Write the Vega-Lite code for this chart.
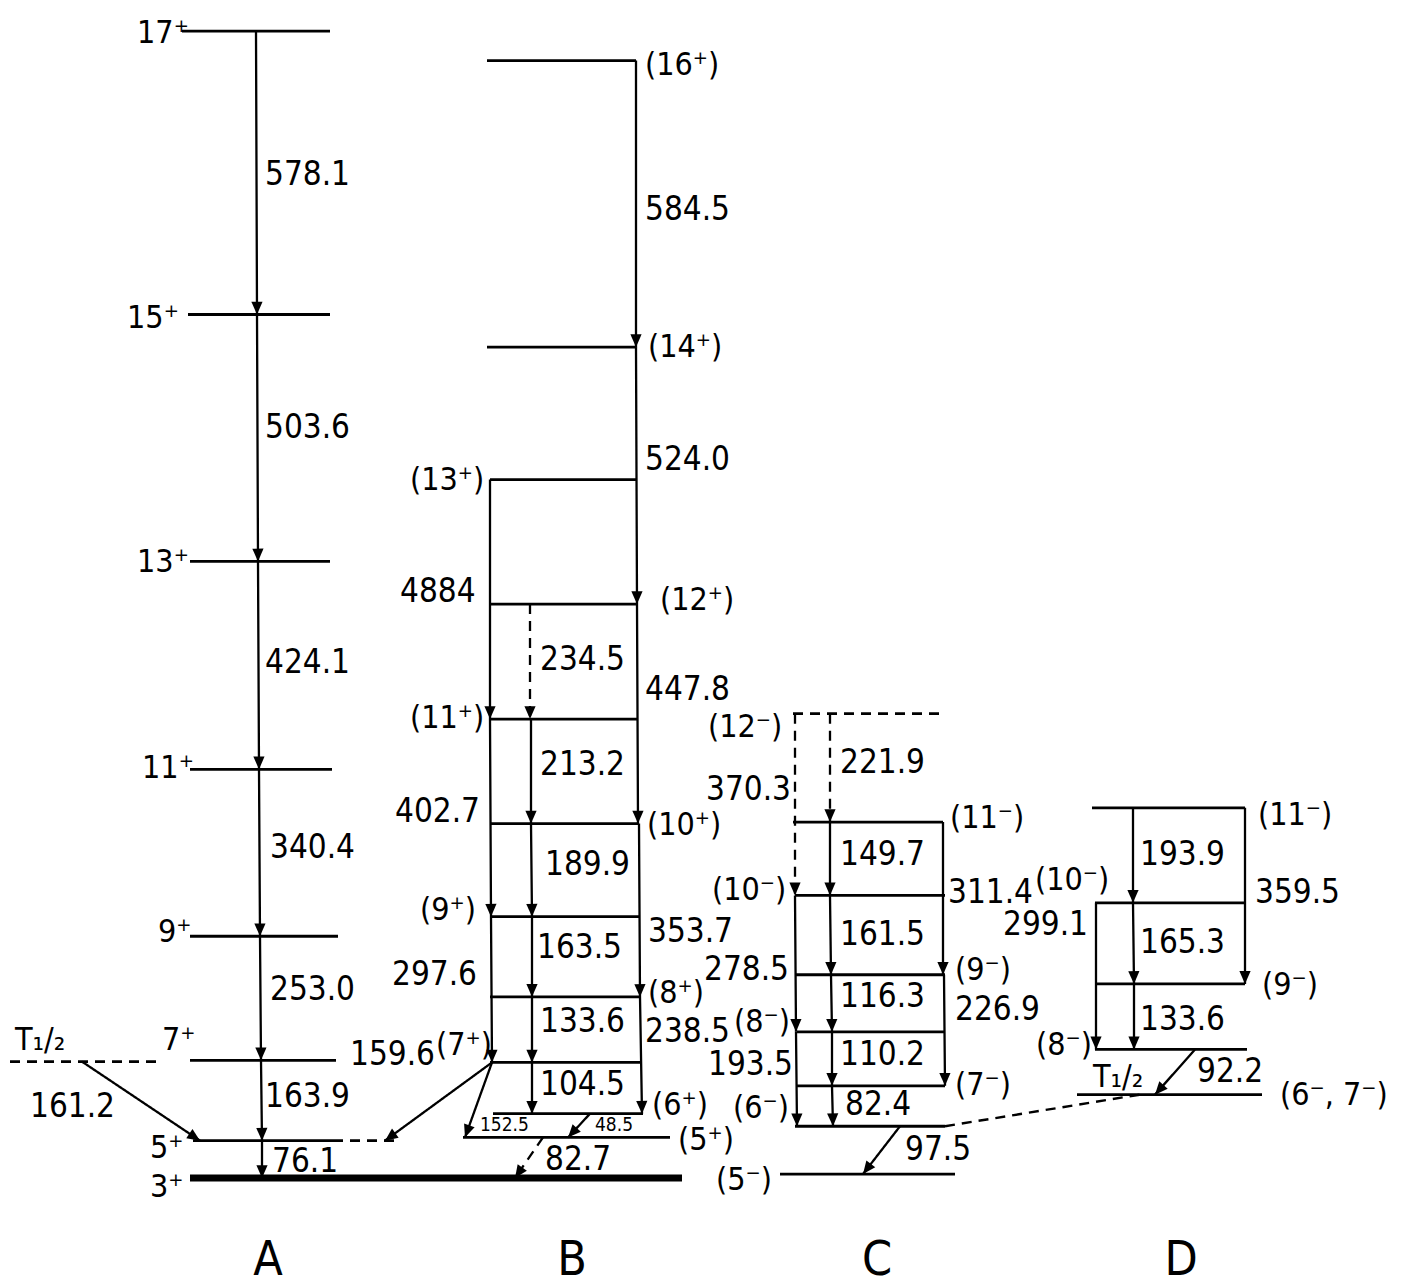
{
  "$schema": "https://vega.github.io/schema/vega-lite/v6.json",
  "width": 1414,
  "height": 1288,
  "autosize": {"type": "fit", "contains": "padding"},
  "padding": 0,
  "background": "white",
  "config": {
    "view": {"stroke": null},
    "text": {"font": "DejaVu Sans Condensed, DejaVu Sans", "color": "black"}
  },
  "datasets": {
    "ground": [
      {"band": "A", "jp": "3+", "x1": 190, "x2": 682, "e": 0}
    ],
    "levels": [
      {"band": "A", "jp": "17+", "x1": 182, "x2": 330, "e": 2339.2, "status": "firm"},
      {"band": "A", "jp": "15+", "x1": 188, "x2": 330, "e": 1761.1, "status": "firm"},
      {"band": "A", "jp": "13+", "x1": 190, "x2": 330, "e": 1257.5, "status": "firm"},
      {"band": "A", "jp": "11+", "x1": 190, "x2": 332, "e": 833.4, "status": "firm"},
      {"band": "A", "jp": "9+", "x1": 190, "x2": 338, "e": 493.0, "status": "firm"},
      {"band": "A", "jp": "7+", "x1": 190, "x2": 336, "e": 240.0, "status": "firm"},
      {"band": "A", "jp": "isomer", "x1": 10, "x2": 163, "e": 237.3, "status": "tentative"},
      {"band": "A", "jp": "5+", "x1": 193, "x2": 333, "e": 76.1, "status": "firm"},
      {"band": "A", "jp": "5+", "x1": 333, "x2": 397, "e": 76.1, "status": "tentative"},
      {"band": "B", "jp": "16+", "x1": 487, "x2": 636, "e": 2279.1, "status": "firm"},
      {"band": "B", "jp": "14+", "x1": 487, "x2": 636, "e": 1694.6, "status": "firm"},
      {"band": "B", "jp": "13+", "x1": 490, "x2": 637, "e": 1424.4, "status": "firm"},
      {"band": "B", "jp": "12+", "x1": 490, "x2": 637, "e": 1170.6, "status": "firm"},
      {"band": "B", "jp": "11+", "x1": 490, "x2": 638, "e": 936.0, "status": "firm"},
      {"band": "B", "jp": "10+", "x1": 490, "x2": 639, "e": 722.9, "status": "firm"},
      {"band": "B", "jp": "9+", "x1": 490, "x2": 639, "e": 532.9, "status": "firm"},
      {"band": "B", "jp": "8+", "x1": 490, "x2": 641, "e": 369.3, "status": "firm"},
      {"band": "B", "jp": "7+", "x1": 490, "x2": 641, "e": 235.6, "status": "firm"},
      {"band": "B", "jp": "6+", "x1": 493, "x2": 643, "e": 131.1, "status": "firm"},
      {"band": "B", "jp": "5+", "x1": 463, "x2": 670, "e": 82.7, "status": "firm"},
      {"band": "C", "jp": "12-", "x1": 793, "x2": 943, "e": 947.0, "status": "tentative"},
      {"band": "C", "jp": "11-", "x1": 793, "x2": 943, "e": 725.9, "status": "firm"},
      {"band": "C", "jp": "10-", "x1": 795, "x2": 945, "e": 576.3, "status": "firm"},
      {"band": "C", "jp": "9-", "x1": 795, "x2": 945, "e": 414.5, "status": "firm"},
      {"band": "C", "jp": "8-", "x1": 797, "x2": 945, "e": 298.1, "status": "firm"},
      {"band": "C", "jp": "7-", "x1": 797, "x2": 945, "e": 187.9, "status": "firm"},
      {"band": "C", "jp": "6-", "x1": 795, "x2": 945, "e": 105.5, "status": "firm"},
      {"band": "C", "jp": "5-", "x1": 780, "x2": 955, "e": 8.0, "status": "firm"},
      {"band": "D", "jp": "11-", "x1": 1092, "x2": 1245, "e": 755.0, "status": "firm"},
      {"band": "D", "jp": "10-", "x1": 1095, "x2": 1245, "e": 561.1, "status": "firm"},
      {"band": "D", "jp": "9-", "x1": 1095, "x2": 1245, "e": 395.8, "status": "firm"},
      {"band": "D", "jp": "8-", "x1": 1095, "x2": 1247, "e": 262.2, "status": "firm"},
      {"band": "D", "jp": "6-,7-", "x1": 1077, "x2": 1262, "e": 170.0, "status": "firm"}
    ],
    "links": [
      {"from": "C 6-", "to": "D 6-,7-", "x1": 945, "e1": 105.5, "x2": 1140, "e2": 170.0, "status": "tentative"}
    ],
    "transitions": [
      {"g": "578.1", "x1": 256, "e1": 2339.2, "x2": 257, "e2": 1761.1, "status": "firm"},
      {"g": "503.6", "x1": 257, "e1": 1761.1, "x2": 258, "e2": 1257.5, "status": "firm"},
      {"g": "424.1", "x1": 258, "e1": 1257.5, "x2": 259, "e2": 833.4, "status": "firm"},
      {"g": "340.4", "x1": 259, "e1": 833.4, "x2": 260, "e2": 493.0, "status": "firm"},
      {"g": "253.0", "x1": 260, "e1": 493.0, "x2": 261, "e2": 240.0, "status": "firm"},
      {"g": "163.9", "x1": 261, "e1": 240.0, "x2": 262, "e2": 76.1, "status": "firm"},
      {"g": "76.1", "x1": 262, "e1": 76.1, "x2": 262, "e2": 0, "status": "firm"},
      {"g": "161.2", "x1": 82, "e1": 237.3, "x2": 200, "e2": 76.1, "status": "firm"},
      {"g": "584.5", "x1": 636, "e1": 2279.1, "x2": 636, "e2": 1694.6, "status": "firm"},
      {"g": "524.0", "x1": 636, "e1": 1694.6, "x2": 637, "e2": 1170.6, "status": "firm"},
      {"g": "447.8", "x1": 637, "e1": 1170.6, "x2": 638, "e2": 722.9, "status": "firm"},
      {"g": "353.7", "x1": 639, "e1": 722.9, "x2": 640, "e2": 369.3, "status": "firm"},
      {"g": "238.5", "x1": 640, "e1": 369.3, "x2": 642, "e2": 131.1, "status": "firm"},
      {"g": "488.4", "x1": 490, "e1": 1424.4, "x2": 490, "e2": 936.0, "status": "firm"},
      {"g": "402.7", "x1": 490, "e1": 936.0, "x2": 491, "e2": 532.9, "status": "firm"},
      {"g": "297.6", "x1": 491, "e1": 532.9, "x2": 492, "e2": 235.6, "status": "firm"},
      {"g": "234.5", "x1": 530, "e1": 1170.6, "x2": 530, "e2": 936.0, "status": "tentative"},
      {"g": "213.2", "x1": 531, "e1": 936.0, "x2": 531, "e2": 722.9, "status": "firm"},
      {"g": "189.9", "x1": 531, "e1": 722.9, "x2": 532, "e2": 532.9, "status": "firm"},
      {"g": "163.5", "x1": 532, "e1": 532.9, "x2": 532, "e2": 369.3, "status": "firm"},
      {"g": "133.6", "x1": 532, "e1": 369.3, "x2": 532, "e2": 235.6, "status": "firm"},
      {"g": "104.5", "x1": 532, "e1": 235.6, "x2": 532, "e2": 131.1, "status": "firm"},
      {"g": "152.5", "x1": 492, "e1": 235.6, "x2": 465, "e2": 82.7, "status": "firm"},
      {"g": "159.6", "x1": 492, "e1": 235.6, "x2": 385, "e2": 76.1, "status": "firm"},
      {"g": "48.5", "x1": 590, "e1": 131.1, "x2": 568, "e2": 82.7, "status": "firm"},
      {"g": "82.7", "x1": 543, "e1": 82.7, "x2": 515, "e2": 0, "status": "tentative"},
      {"g": "370.3", "x1": 795, "e1": 947.0, "x2": 795, "e2": 576.3, "status": "tentative"},
      {"g": "221.9", "x1": 830, "e1": 947.0, "x2": 830, "e2": 725.9, "status": "tentative"},
      {"g": "278.5", "x1": 795, "e1": 576.3, "x2": 796, "e2": 298.1, "status": "firm"},
      {"g": "193.5", "x1": 796, "e1": 298.1, "x2": 797, "e2": 105.5, "status": "firm"},
      {"g": "149.7", "x1": 830, "e1": 725.9, "x2": 830, "e2": 576.3, "status": "firm"},
      {"g": "161.5", "x1": 830, "e1": 576.3, "x2": 831, "e2": 414.5, "status": "firm"},
      {"g": "116.3", "x1": 831, "e1": 414.5, "x2": 832, "e2": 298.1, "status": "firm"},
      {"g": "110.2", "x1": 832, "e1": 298.1, "x2": 832, "e2": 187.9, "status": "firm"},
      {"g": "82.4", "x1": 832, "e1": 187.9, "x2": 833, "e2": 105.5, "status": "firm"},
      {"g": "311.4", "x1": 943, "e1": 725.9, "x2": 943, "e2": 414.5, "status": "firm"},
      {"g": "226.9", "x1": 944, "e1": 414.5, "x2": 945, "e2": 187.9, "status": "firm"},
      {"g": "97.5", "x1": 900, "e1": 105.5, "x2": 863, "e2": 8.0, "status": "firm"},
      {"g": "299.1", "x1": 1096, "e1": 561.1, "x2": 1096, "e2": 262.2, "status": "firm"},
      {"g": "193.9", "x1": 1133, "e1": 755.0, "x2": 1133, "e2": 561.1, "status": "firm"},
      {"g": "165.3", "x1": 1133, "e1": 561.1, "x2": 1134, "e2": 395.8, "status": "firm"},
      {"g": "133.6", "x1": 1134, "e1": 395.8, "x2": 1134, "e2": 262.2, "status": "firm"},
      {"g": "359.5", "x1": 1245, "e1": 755.0, "x2": 1245, "e2": 395.8, "status": "firm"},
      {"g": "92.2", "x1": 1195, "e1": 262.2, "x2": 1155, "e2": 170.0, "status": "firm"}
    ],
    "gammaLabels": [
      {"t": "578.1", "x": 265, "e": 2045.7},
      {"t": "503.6", "x": 265, "e": 1529.7},
      {"t": "424.1", "x": 265, "e": 1050.4},
      {"t": "340.4", "x": 270, "e": 673.1},
      {"t": "253.0", "x": 270, "e": 383.4},
      {"t": "163.9", "x": 265, "e": 165.2},
      {"t": "76.1", "x": 272, "e": 32.6},
      {"t": "161.2", "x": 30, "e": 144.8},
      {"t": "584.5", "x": 645, "e": 1974.3},
      {"t": "524.0", "x": 645, "e": 1464.4},
      {"t": "4884", "x": 400, "e": 1195.2},
      {"t": "234.5", "x": 540, "e": 1056.5},
      {"t": "447.8", "x": 645, "e": 995.3},
      {"t": "213.2", "x": 540, "e": 842.4},
      {"t": "402.7", "x": 395, "e": 746.5},
      {"t": "189.9", "x": 545, "e": 638.4},
      {"t": "163.5", "x": 537, "e": 469.1},
      {"t": "353.7", "x": 648, "e": 501.7},
      {"t": "297.6", "x": 392, "e": 414.0},
      {"t": "133.6", "x": 540, "e": 318.2},
      {"t": "238.5", "x": 645, "e": 297.8},
      {"t": "104.5", "x": 540, "e": 189.7},
      {"t": "159.6", "x": 350, "e": 250.9},
      {"t": "82.7", "x": 545, "e": 36.7},
      {"t": "221.9", "x": 840, "e": 846.4},
      {"t": "370.3", "x": 706, "e": 791.4},
      {"t": "149.7", "x": 840, "e": 658.8},
      {"t": "311.4", "x": 948, "e": 581.3},
      {"t": "161.5", "x": 840, "e": 495.6},
      {"t": "278.5", "x": 704, "e": 424.2},
      {"t": "116.3", "x": 840, "e": 369.2},
      {"t": "226.9", "x": 955, "e": 342.7},
      {"t": "110.2", "x": 840, "e": 250.9},
      {"t": "193.5", "x": 708, "e": 230.5},
      {"t": "82.4", "x": 845, "e": 148.9},
      {"t": "97.5", "x": 905, "e": 57.1},
      {"t": "193.9", "x": 1140, "e": 658.8},
      {"t": "359.5", "x": 1255, "e": 581.3},
      {"t": "299.1", "x": 1003, "e": 516.0},
      {"t": "165.3", "x": 1140, "e": 479.3},
      {"t": "133.6", "x": 1140, "e": 322.3},
      {"t": "92.2", "x": 1197, "e": 216.2}
    ],
    "smallLabels": [
      {"t": "152.5", "x": 480, "e": 108.1},
      {"t": "48.5", "x": 595, "e": 108.1}
    ],
    "spinLabels": [
      {"t": "17⁺", "x": 137, "e": 2335.3},
      {"t": "15⁺", "x": 127, "e": 1754.1},
      {"t": "13⁺", "x": 137, "e": 1256.4},
      {"t": "11⁺", "x": 142, "e": 836.2},
      {"t": "9⁺", "x": 158, "e": 501.7},
      {"t": "7⁺", "x": 162, "e": 281.5},
      {"t": "5⁺", "x": 150, "e": 61.2},
      {"t": "3⁺", "x": 150, "e": -18.4},
      {"t": "(16⁺)", "x": 645, "e": 2270.1},
      {"t": "(14⁺)", "x": 648, "e": 1694.9},
      {"t": "(13⁺)", "x": 410, "e": 1423.6},
      {"t": "(12⁺)", "x": 660, "e": 1178.9},
      {"t": "(11⁺)", "x": 410, "e": 938.2},
      {"t": "(10⁺)", "x": 647, "e": 720.0},
      {"t": "(9⁺)", "x": 420, "e": 546.6},
      {"t": "(8⁺)", "x": 648, "e": 377.3},
      {"t": "(7⁺)", "x": 436, "e": 271.3},
      {"t": "(6⁺)", "x": 652, "e": 148.9},
      {"t": "(5⁺)", "x": 678, "e": 77.5},
      {"t": "(12⁻)", "x": 708, "e": 919.9},
      {"t": "(11⁻)", "x": 950, "e": 734.3},
      {"t": "(10⁻)", "x": 712, "e": 587.4},
      {"t": "(9⁻)", "x": 955, "e": 424.2},
      {"t": "(8⁻)", "x": 734, "e": 318.2},
      {"t": "(7⁻)", "x": 955, "e": 189.7},
      {"t": "(6⁻)", "x": 733, "e": 142.8},
      {"t": "(5⁻)", "x": 716, "e": -4.1},
      {"t": "(11⁻)", "x": 1258, "e": 740.4},
      {"t": "(10⁻)", "x": 1035, "e": 607.8},
      {"t": "(9⁻)", "x": 1262, "e": 393.6},
      {"t": "(8⁻)", "x": 1036, "e": 271.3},
      {"t": "(6⁻, 7⁻)", "x": 1280, "e": 169.3}
    ],
    "halfLife": [
      {"t": "T₁/₂", "x": 15, "e": 281.5},
      {"t": "T₁/₂", "x": 1093, "e": 206.0}
    ],
    "bands": [
      {"t": "A", "x": 268, "e": -169.3},
      {"t": "B", "x": 572, "e": -169.3},
      {"t": "C", "x": 877, "e": -169.3},
      {"t": "D", "x": 1181, "e": -169.3}
    ]
  },
  "layer": [
    {
      "data": {"name": "ground"},
      "mark": {"type": "rule", "strokeWidth": 7, "color": "black", "strokeCap": "butt"},
      "encoding": {
        "x": {"field": "x1", "type": "quantitative", "scale": {"domain": [0, 1414], "nice": false, "zero": false}, "axis": null},
        "x2": {"field": "x2"},
        "y": {"field": "e", "type": "quantitative", "scale": {"domain": [-224.4, 2402.6], "nice": false, "zero": false}, "axis": null}
      }
    },
    {
      "data": {"name": "levels"},
      "mark": {"type": "rule", "strokeWidth": 2.8, "color": "black", "strokeCap": "butt"},
      "encoding": {
        "x": {"field": "x1", "type": "quantitative", "scale": {"domain": [0, 1414], "nice": false, "zero": false}, "axis": null},
        "x2": {"field": "x2"},
        "y": {"field": "e", "type": "quantitative", "scale": {"domain": [-224.4, 2402.6], "nice": false, "zero": false}, "axis": null},
        "strokeDash": {"field": "status", "type": "nominal", "scale": {"domain": ["firm", "tentative"], "range": [[1, 0], [10, 7]]}, "legend": null}
      }
    },
    {
      "data": {"name": "links"},
      "mark": {"type": "rule", "strokeWidth": 2.4, "color": "black", "strokeCap": "butt"},
      "encoding": {
        "x": {"field": "x1", "type": "quantitative", "scale": {"domain": [0, 1414], "nice": false, "zero": false}, "axis": null},
        "x2": {"field": "x2"},
        "y": {"field": "e1", "type": "quantitative", "scale": {"domain": [-224.4, 2402.6], "nice": false, "zero": false}, "axis": null},
        "y2": {"field": "e2"},
        "strokeDash": {"field": "status", "type": "nominal", "scale": {"domain": ["firm", "tentative"], "range": [[1, 0], [10, 7]]}, "legend": null}
      }
    },
    {
      "data": {"name": "transitions"},
      "mark": {"type": "rule", "strokeWidth": 2.3, "color": "black", "strokeCap": "butt"},
      "encoding": {
        "x": {"field": "x1", "type": "quantitative", "scale": {"domain": [0, 1414], "nice": false, "zero": false}, "axis": null},
        "x2": {"field": "x2"},
        "y": {"field": "e1", "type": "quantitative", "scale": {"domain": [-224.4, 2402.6], "nice": false, "zero": false}, "axis": null},
        "y2": {"field": "e2"},
        "strokeDash": {"field": "status", "type": "nominal", "scale": {"domain": ["firm", "tentative"], "range": [[1, 0], [10, 7]]}, "legend": null}
      }
    },
    {
      "data": {"name": "transitions"},
      "transform": [
        {"calculate": "atan2(-(datum.x2 - datum.x1), 0.4903 * (datum.e1 - datum.e2)) * 180 / PI", "as": "heading"}
      ],
      "mark": {"type": "point", "filled": true, "color": "black", "opacity": 1, "size": 256, "shape": "M0,0L-0.7,-1.6L0.7,-1.6Z"},
      "encoding": {
        "x": {"field": "x2", "type": "quantitative", "scale": {"domain": [0, 1414], "nice": false, "zero": false}, "axis": null},
        "y": {"field": "e2", "type": "quantitative", "scale": {"domain": [-224.4, 2402.6], "nice": false, "zero": false}, "axis": null},
        "angle": {"field": "heading", "type": "quantitative", "scale": null}
      }
    },
    {
      "data": {"name": "gammaLabels"},
      "mark": {"type": "text", "align": "left", "baseline": "middle", "fontSize": 33},
      "encoding": {
        "x": {"field": "x", "type": "quantitative", "scale": {"domain": [0, 1414], "nice": false, "zero": false}, "axis": null},
        "y": {"field": "e", "type": "quantitative", "scale": {"domain": [-224.4, 2402.6], "nice": false, "zero": false}, "axis": null},
        "text": {"field": "t"}
      }
    },
    {
      "data": {"name": "smallLabels"},
      "mark": {"type": "text", "align": "left", "baseline": "middle", "fontSize": 19},
      "encoding": {
        "x": {"field": "x", "type": "quantitative", "scale": {"domain": [0, 1414], "nice": false, "zero": false}, "axis": null},
        "y": {"field": "e", "type": "quantitative", "scale": {"domain": [-224.4, 2402.6], "nice": false, "zero": false}, "axis": null},
        "text": {"field": "t"}
      }
    },
    {
      "data": {"name": "spinLabels"},
      "mark": {"type": "text", "align": "left", "baseline": "middle", "fontSize": 32},
      "encoding": {
        "x": {"field": "x", "type": "quantitative", "scale": {"domain": [0, 1414], "nice": false, "zero": false}, "axis": null},
        "y": {"field": "e", "type": "quantitative", "scale": {"domain": [-224.4, 2402.6], "nice": false, "zero": false}, "axis": null},
        "text": {"field": "t"}
      }
    },
    {
      "data": {"name": "halfLife"},
      "mark": {"type": "text", "align": "left", "baseline": "middle", "fontSize": 32},
      "encoding": {
        "x": {"field": "x", "type": "quantitative", "scale": {"domain": [0, 1414], "nice": false, "zero": false}, "axis": null},
        "y": {"field": "e", "type": "quantitative", "scale": {"domain": [-224.4, 2402.6], "nice": false, "zero": false}, "axis": null},
        "text": {"field": "t"}
      }
    },
    {
      "data": {"name": "bands"},
      "mark": {"type": "text", "align": "center", "baseline": "middle", "fontSize": 48},
      "encoding": {
        "x": {"field": "x", "type": "quantitative", "scale": {"domain": [0, 1414], "nice": false, "zero": false}, "axis": null},
        "y": {"field": "e", "type": "quantitative", "scale": {"domain": [-224.4, 2402.6], "nice": false, "zero": false}, "axis": null},
        "text": {"field": "t"}
      }
    }
  ]
}
